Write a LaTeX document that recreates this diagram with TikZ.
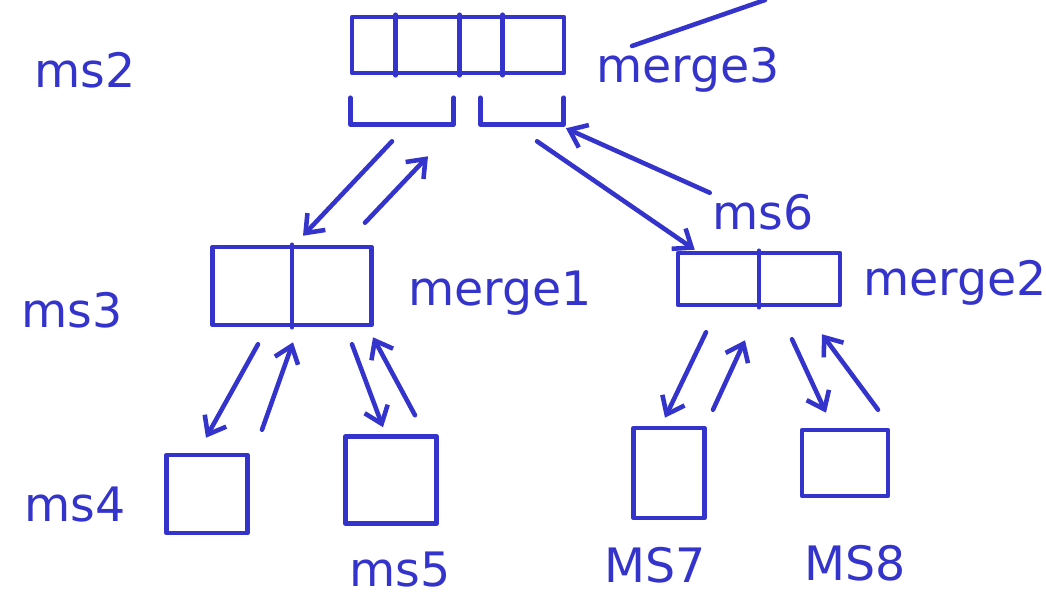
\documentclass[tikz,border=0pt]{standalone}
\usepackage{fontspec}
\setmainfont{DejaVu Sans}
\usepackage{tikz}
\usetikzlibrary{arrows.meta, calc}
\definecolor{ink}{RGB}{52,52,204}
\tikzset{
  pen style/.style={
    >={Straight Barb[length=9pt,width=14pt]}, % hand drawn arrow tip
    line width=2.6pt,                          % pen thickness
    line cap=round, line join=round,
    color=ink,
  },
  cellbox/.style={draw=ink, inner sep=0pt},
  halfbox/.style={inner sep=0pt, minimum height=0.44cm},
  lbl/.style={text=ink, font=\fontsize{27}{27}\selectfont},
}
\tikzset{every path/.style={pen style}}

\begin{document}
\begin{tikzpicture}[x=0.02cm, y=-0.02cm]
    \useasboundingbox (0,0) rectangle (1046,600);

    % the arrays of each call
    \node[cellbox, minimum width=4.24cm, minimum height=1.12cm] (top) at (458,45) {};
    \node[halfbox, minimum width=1.98cm] (lhalf) at (402,111) {};
    \node[halfbox, minimum width=1.58cm] (rhalf) at (522,111) {};
    \node[cellbox, minimum width=3.18cm, minimum height=1.56cm] (left) at (292,286) {};
    \node[cellbox, minimum width=3.24cm, minimum height=1.04cm] (right) at (759,279) {};
    \node[cellbox, minimum width=1.62cm, minimum height=1.56cm] (ms4) at (207,494) {};
    \node[cellbox, minimum width=1.82cm, minimum height=1.74cm] (ms5) at (391,480) {};
    \node[cellbox, minimum width=1.42cm, minimum height=1.80cm] (ms7) at (669,473) {};
    \node[cellbox, minimum width=1.72cm, minimum height=1.32cm] (ms8) at (845,463) {};

    % cell walls
    \foreach \d in {46,110,153}
      \draw ($(top.north west)+(\d,0)$) -- ($(top.south west)+(\d,0)$);
    \draw (left.north) -- (left.south);
    \draw (right.north) -- (right.south);

    % the two halves under the top array
    \draw (lhalf.north west) |- (lhalf.south east) -- (lhalf.north east);
    \draw (rhalf.north west) |- (rhalf.south east) -- (rhalf.north east);

    % stray stroke at the top
    \draw (632,46) -- (765,0);

    % calls going down, results coming back up
    \draw[->] ($(lhalf.south)+(-10,17)$) -- ($(left.north)+(11,-9)$);
    \draw[->] ($(left.north)+(73,-22)$) -- ($(lhalf.south)+(26,32)$);
    \draw[->] ($(rhalf.south)+(15,17)$) -- ($(right.north west)+(19,-1)$);
    \draw[->] ($(right.north west)+(34,-58)$) -- ($(rhalf.south)+(44,4)$);

    \draw[->] ($(left.south)+(-34,17)$) -- ($(ms4.north)+(-1,-15)$);
    \draw[->] ($(ms4.north)+(55,-23)$) -- ($(left.south)+(1,15)$);
    \draw[->] ($(left.south)+(60,17)$) -- ($(ms5.north)+(-8,-7)$);
    \draw[->] ($(ms5.north)+(24,-19)$) -- ($(left.south)+(81,10)$);

    \draw[->] ($(right.south)+(-53,25)$) -- ($(ms7.north)+(-4,-8)$);
    \draw[->] ($(ms7.north)+(44,-16)$) -- ($(right.south)+(-14,33)$);
    \draw[->] ($(right.south)+(33,32)$) -- ($(ms8.north)+(-19,-15)$);
    \draw[->] ($(ms8.north)+(33,-18)$) -- ($(right.south)+(63,27)$);

    % labels
    \node[lbl] (tms2) at (85,70) {ms2};
    \node[lbl] (tmerge3) at (688,70) {merge3};
    \node[lbl] (tms6) at (763,212) {ms6};
    \node[lbl] (tms3) at (72,310) {ms3};
    \node[lbl] (tmerge1) at (500,293) {merge1};
    \node[lbl] (tmerge2) at (955,283) {merge2};
    \node[lbl] (tms4) at (75,505) {ms4};
    \node[lbl] (tms5) at (400,570) {ms5};
    \node[lbl] (tms7) at (655,565) {MS7};
    \node[lbl] (tms8) at (855,563) {MS8};
\end{tikzpicture}
\end{document}
